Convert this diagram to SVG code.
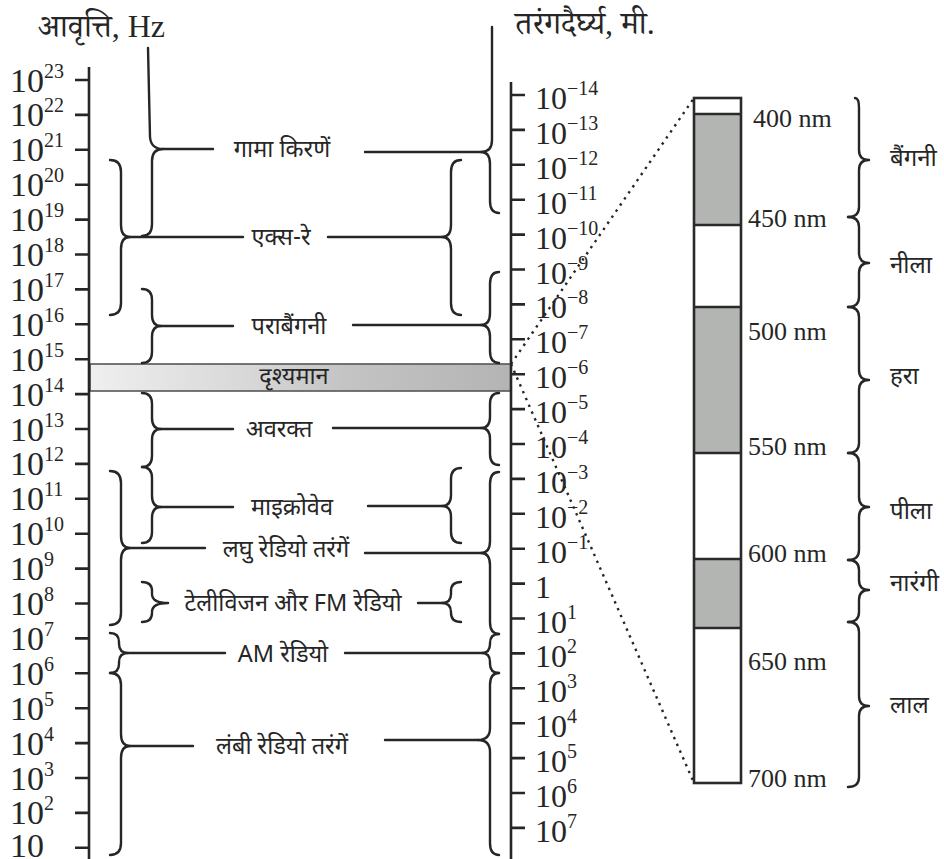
<svg xmlns="http://www.w3.org/2000/svg" width="944" height="859" viewBox="0 0 944 859">
<style>
.ax{stroke:#262626;stroke-width:2.6;fill:none}
.br{stroke:#262626;stroke-width:2.4;fill:none;stroke-linecap:round;stroke-linejoin:round}
.dot{stroke:#262626;stroke-width:2.4;fill:none;stroke-dasharray:2.4 5}
.nl{font-family:"Liberation Serif",serif;font-size:34px;fill:#262626}
.nr{font-family:"Liberation Serif",serif;font-size:32px;fill:#262626}
.sup{font-size:20px}
.lab{font-family:"Noto Sans Devanagari","Noto Sans","DejaVu Sans",sans-serif;font-size:23.5px;fill:#262626;text-anchor:middle}
.col{font-family:"Noto Sans Devanagari","Noto Sans","DejaVu Sans",sans-serif;font-size:24px;fill:#262626}
.nm{font-family:"Liberation Serif",serif;font-size:26px;fill:#262626}
.ttl{font-family:"Liberation Serif","Noto Serif Devanagari","Noto Sans Devanagari",serif;font-size:32px;fill:#262626}
.seg{stroke:#2a2a2a;stroke-width:2.4}
</style>
<defs>
<linearGradient id="vis" x1="0" y1="0" x2="1" y2="0">
<stop offset="0" stop-color="#efefef"/>
<stop offset="0.4" stop-color="#d6d6d6"/>
<stop offset="0.6" stop-color="#c4c4c4"/>
<stop offset="1" stop-color="#b3b4b3"/>
</linearGradient>
</defs>
<rect width="944" height="859" fill="#ffffff"/>

<g id="titles">
<text class="ttl" x="38" y="37">आवृत्ति, Hz</text>
<text class="ttl" x="515" y="34">तरंगदैर्घ्य, मी.</text>
</g>

<g id="band-visible">
<rect x="90" y="364" width="421" height="27" fill="url(#vis)" stroke="#555" stroke-width="1.6"/>
<text class="lab" x="294" y="384" fill="#333">दृश्यमान</text>
</g>

<g id="axis-frequency">
<path class="ax" d="M89,67 V859 M75,80 H89 M75,114.9 H89 M75,149.8 H89 M75,184.7 H89 M75,219.6 H89 M75,254.5 H89 M75,289.4 H89 M75,324.3 H89 M75,359.2 H89 M75,394.1 H89 M75,429 H89 M75,463.9 H89 M75,498.8 H89 M75,533.7 H89 M75,568.6 H89 M75,603.5 H89 M75,638.4 H89 M75,673.3 H89 M75,708.2 H89 M75,743.1 H89 M75,778 H89 M75,812.9 H89 M75,847.8 H89"/>
<text class="nl" x="10" y="91.5">10<tspan class="sup" dy="-14">23</tspan></text>
<text class="nl" x="10" y="126.4">10<tspan class="sup" dy="-14">22</tspan></text>
<text class="nl" x="10" y="161.3">10<tspan class="sup" dy="-14">21</tspan></text>
<text class="nl" x="10" y="196.2">10<tspan class="sup" dy="-14">20</tspan></text>
<text class="nl" x="10" y="231.1">10<tspan class="sup" dy="-14">19</tspan></text>
<text class="nl" x="10" y="266">10<tspan class="sup" dy="-14">18</tspan></text>
<text class="nl" x="10" y="300.9">10<tspan class="sup" dy="-14">17</tspan></text>
<text class="nl" x="10" y="335.8">10<tspan class="sup" dy="-14">16</tspan></text>
<text class="nl" x="10" y="370.7">10<tspan class="sup" dy="-14">15</tspan></text>
<text class="nl" x="10" y="405.6">10<tspan class="sup" dy="-14">14</tspan></text>
<text class="nl" x="10" y="440.5">10<tspan class="sup" dy="-14">13</tspan></text>
<text class="nl" x="10" y="475.4">10<tspan class="sup" dy="-14">12</tspan></text>
<text class="nl" x="10" y="510.3">10<tspan class="sup" dy="-14">11</tspan></text>
<text class="nl" x="10" y="545.2">10<tspan class="sup" dy="-14">10</tspan></text>
<text class="nl" x="10" y="580.1">10<tspan class="sup" dy="-14">9</tspan></text>
<text class="nl" x="10" y="615">10<tspan class="sup" dy="-14">8</tspan></text>
<text class="nl" x="10" y="649.9">10<tspan class="sup" dy="-14">7</tspan></text>
<text class="nl" x="10" y="684.8">10<tspan class="sup" dy="-14">6</tspan></text>
<text class="nl" x="10" y="719.7">10<tspan class="sup" dy="-14">5</tspan></text>
<text class="nl" x="10" y="754.6">10<tspan class="sup" dy="-14">4</tspan></text>
<text class="nl" x="10" y="789.5">10<tspan class="sup" dy="-14">3</tspan></text>
<text class="nl" x="10" y="824.4">10<tspan class="sup" dy="-14">2</tspan></text>
<text class="nl" x="10" y="856.5">10</text>
</g>

<g id="axis-wavelength">
<path class="ax" d="M511,82 V859 M511,95 H525 M511,129.9 H525 M511,164.8 H525 M511,199.7 H525 M511,234.6 H525 M511,269.5 H525 M511,304.4 H525 M511,339.3 H525 M511,374.2 H525 M511,409.1 H525 M511,444 H525 M511,478.9 H525 M511,513.8 H525 M511,548.7 H525 M511,583.6 H525 M511,618.5 H525 M511,653.4 H525 M511,688.3 H525 M511,723.2 H525 M511,758.1 H525 M511,793 H525 M511,827.9 H525"/>
<text class="nr" x="535" y="109">10<tspan class="sup" dy="-14">−14</tspan></text>
<text class="nr" x="535" y="143.9">10<tspan class="sup" dy="-14">−13</tspan></text>
<text class="nr" x="535" y="178.8">10<tspan class="sup" dy="-14">−12</tspan></text>
<text class="nr" x="535" y="213.7">10<tspan class="sup" dy="-14">−11</tspan></text>
<text class="nr" x="535" y="248.6">10<tspan class="sup" dy="-14">−10</tspan></text>
<text class="nr" x="535" y="283.5">10<tspan class="sup" dy="-14">−9</tspan></text>
<text class="nr" x="535" y="318.4">10<tspan class="sup" dy="-14">−8</tspan></text>
<text class="nr" x="535" y="353.3">10<tspan class="sup" dy="-14">−7</tspan></text>
<text class="nr" x="535" y="388.2">10<tspan class="sup" dy="-14">−6</tspan></text>
<text class="nr" x="535" y="423.1">10<tspan class="sup" dy="-14">−5</tspan></text>
<text class="nr" x="535" y="458">10<tspan class="sup" dy="-14">−4</tspan></text>
<text class="nr" x="535" y="492.9">10<tspan class="sup" dy="-14">−3</tspan></text>
<text class="nr" x="535" y="527.8">10<tspan class="sup" dy="-14">−2</tspan></text>
<text class="nr" x="535" y="562.7">10<tspan class="sup" dy="-14">−1</tspan></text>
<text class="nr" x="535" y="597.6">1</text>
<text class="nr" x="535" y="632.5">10<tspan class="sup" dy="-14">1</tspan></text>
<text class="nr" x="535" y="667.4">10<tspan class="sup" dy="-14">2</tspan></text>
<text class="nr" x="535" y="702.3">10<tspan class="sup" dy="-14">3</tspan></text>
<text class="nr" x="535" y="737.2">10<tspan class="sup" dy="-14">4</tspan></text>
<text class="nr" x="535" y="772.1">10<tspan class="sup" dy="-14">5</tspan></text>
<text class="nr" x="535" y="807">10<tspan class="sup" dy="-14">6</tspan></text>
<text class="nr" x="535" y="841.9">10<tspan class="sup" dy="-14">7</tspan></text>
</g>

<g id="node-gamma"><text class="lab" x="282" y="157">गामा किरणें</text></g>
<g id="node-xray"><text class="lab" x="281" y="245">एक्स-रे</text></g>
<g id="node-uv"><text class="lab" x="289" y="334">पराबैंगनी</text></g>
<g id="node-ir"><text class="lab" x="279" y="437">अवरक्त</text></g>
<g id="node-microwave"><text class="lab" x="292" y="515">माइक्रोवेव</text></g>
<g id="node-shortradio"><text class="lab" x="286" y="557">लघु रेडियो तरंगें</text></g>
<g id="node-tvfm"><text class="lab" x="293" y="611">टेलीविजन और FM रेडियो</text></g>
<g id="node-am"><text class="lab" x="283" y="662">AM रेडियो</text></g>
<g id="node-longradio"><text class="lab" x="282" y="754">लंबी रेडियो तरंगें</text></g>

<g id="connectors">
<path class="br" d="M148,48 L150,137 Q151,149 163,149 Q152,149 152,161 L152,224 Q152,236 142,236"/>
<path class="br" d="M110,160 Q121,160 121,172 L121,225 Q121,237 130,237 Q121,237 121,249 L121,303 Q121,315 110,315"/>
<path class="br" d="M142,289 Q152,289 152,300 L152,315 Q152,326 161,326 Q152,326 152,337 L152,352 Q152,363 142,363"/>
<path class="br" d="M142,393 Q152,393 152,404 L152,418 Q152,429 161,429 Q152,429 152,440 L152,456 Q152,467 142,467"/>
<path class="br" d="M142,467 Q152,467 152,478 L152,496 Q152,507 161,507 Q152,507 152,518 L152,532 Q152,543 142,543"/>
<path class="br" d="M110,471 Q121,471 121,483 L121,536 Q121,548 130,548 Q121,548 121,560 L121,613 Q121,625 110,625"/>
<path class="br" d="M142,582 Q152,582 152,591 L152,594 Q152,603 168,603 Q152,603 152,612 L152,613 Q152,622 142,622"/>
<path class="br" d="M110,633 Q119,633 119,642 L119,644 Q119,653 128,653 Q119,653 119,662 L119,664 Q119,673 110,673"/>
<path class="br" d="M110,673 Q121,673 121,685 L121,734 Q121,746 130,746 Q121,746 121,758 L121,843 Q121,855 110,855"/>

<path class="br" d="M492,27 L492,140 Q492,152 481,152 Q490,152 490,164 L490,201 Q490,213 499,213"/>
<path class="br" d="M461,160 Q451,160 451,172 L451,225 Q451,237 442,237 Q451,237 451,249 L451,303 Q451,315 461,315"/>
<path class="br" d="M499,272 Q490,272 490,284 L490,313 Q490,325 481,325 Q490,325 490,337 L490,351 Q490,363 499,363"/>
<path class="br" d="M499,393 Q490,393 490,404 L490,417 Q490,428 481,428 Q490,428 490,439 L490,454 Q490,465 499,465"/>
<path class="br" d="M461,468 Q451,468 451,479 L451,495 Q451,506 442,506 Q451,506 451,517 L451,532 Q451,543 461,543"/>
<path class="br" d="M499,472 Q490,472 490,484 L490,541 Q490,553 481,553 Q490,553 490,565 L490,622 Q490,634 499,634"/>
<path class="br" d="M461,582 Q451,582 451,591 L451,594 Q451,603 442,603 Q451,603 451,612 L451,613 Q451,622 461,622"/>
<path class="br" d="M499,634 Q490,634 490,643 L490,644 Q490,653 482,653 Q490,653 490,662 L490,664 Q490,673 499,673"/>
<path class="br" d="M499,673 Q490,673 490,685 L490,728 Q490,740 478,740 Q490,740 490,752 L490,843 Q490,855 499,855"/>

<path class="br" d="M163,149 H213 M365,152 H481 M130,237 H243 M328,237 H442 M161,326 H233 M353,325 H481 M161,429 H233 M333,428 H481 M161,507 H233 M368,506 H442 M130,548 H205 M365,553 H481 M418,603 H442 M128,653 H225 M345,653 H482 M130,746 H193 M385,740 H478"/>

<path class="dot" d="M511,364 L694,98 M511,364 L694,783"/>

<path class="br" d="M855,98 Q859,98 859,108 L859,150 Q859,160 869,160 Q859,160 859,170 L859,207 Q859,217 848,217"/>
<path class="br" d="M848,217 Q859,217 859,227 L859,253 Q859,263 869,263 Q859,263 859,273 L859,297 Q859,307 848,307"/>
<path class="br" d="M848,307 Q859,307 859,317 L859,370 Q859,380 869,380 Q859,380 859,390 L859,443 Q859,453 848,453"/>
<path class="br" d="M848,453 Q859,453 859,463 L859,497 Q859,507 869,507 Q859,507 859,517 L859,550 Q859,560 848,560"/>
<path class="br" d="M848,560 Q859,560 859,570 L859,580 Q859,590 869,590 Q859,590 859,600 L859,612 Q859,622 848,622"/>
<path class="br" d="M848,622 Q859,622 859,632 L859,696 Q859,706 869,706 Q859,706 859,716 L859,777 Q859,787 848,787"/>
</g>

<g id="visible-column">
<rect x="694" y="98" width="47" height="685" fill="#ffffff"/>
<rect x="694" y="114" width="47" height="111" fill="#b3b5b3"/>
<rect x="694" y="307" width="47" height="146" fill="#b3b5b3"/>
<rect x="694" y="559" width="47" height="69" fill="#b3b5b3"/>
<path class="seg" d="M694,114 H741 M694,225 H741 M694,307 H741 M694,453 H741 M694,559 H741 M694,628 H741"/>
<rect x="694" y="98" width="47" height="685" fill="none" stroke="#2a2a2a" stroke-width="2.6"/>
</g>

<g id="wavelength-labels">
<text class="nm" x="753" y="127">400 nm</text>
<text class="nm" x="748" y="227">450 nm</text>
<text class="nm" x="748" y="340">500 nm</text>
<text class="nm" x="748" y="455">550 nm</text>
<text class="nm" x="748" y="562">600 nm</text>
<text class="nm" x="748" y="670">650 nm</text>
<text class="nm" x="748" y="787">700 nm</text>
</g>

<g id="node-violet"><text class="col" x="890" y="166">बैंगनी</text></g>
<g id="node-blue"><text class="col" x="890" y="273">नीला</text></g>
<g id="node-green"><text class="col" x="890" y="384">हरा</text></g>
<g id="node-yellow"><text class="col" x="890" y="519">पीला</text></g>
<g id="node-orange"><text class="col" x="890" y="591">नारंगी</text></g>
<g id="node-red"><text class="col" x="890" y="713">लाल</text></g>
</svg>
